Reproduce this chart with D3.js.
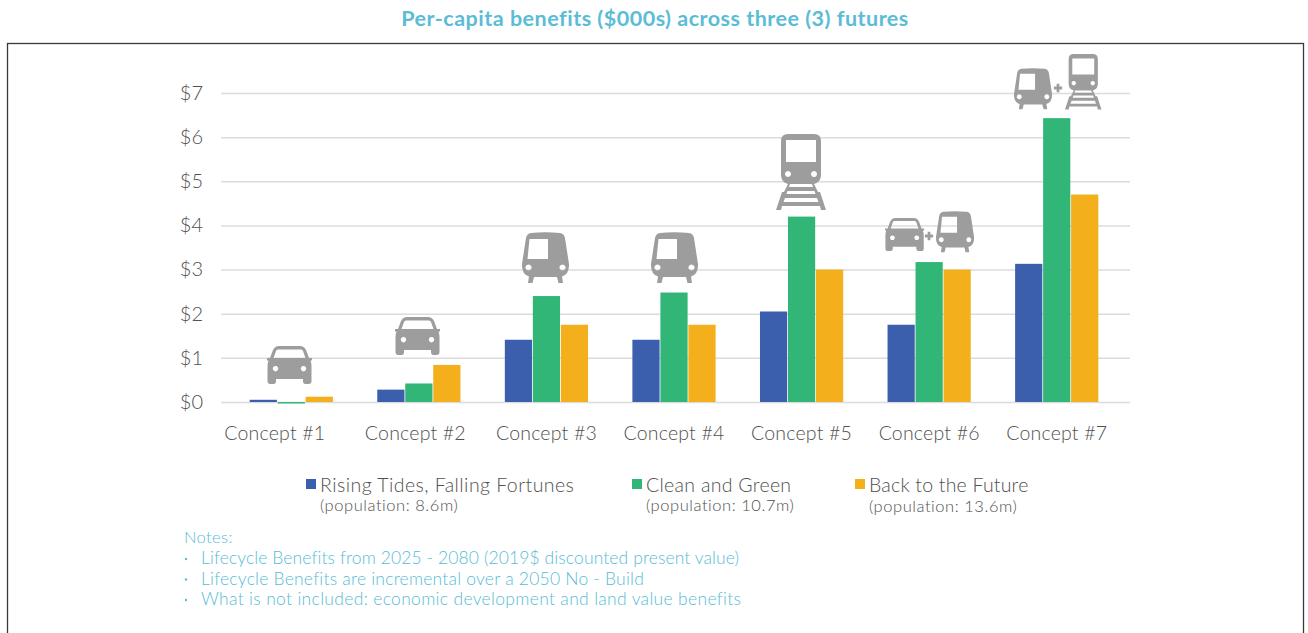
<!DOCTYPE html>
<html>
<head>
<meta charset="utf-8">
<script src="https://cdn.jsdelivr.net/npm/d3@7"></script>
<style>
html, body { margin: 0; padding: 0; background: #fff; overflow: hidden; }
text { font-family: Lato, "Open Sans", sans-serif; font-weight: 300; }
</style>
</head>
<body>
<div id="chart"></div>
<script>
// chart values
var concepts = ["Concept #1", "Concept #2", "Concept #3", "Concept #4", "Concept #5", "Concept #6", "Concept #7"];
var risingTides = [0.05, 0.28, 1.41, 1.41, 2.05, 1.75, 3.13];
var cleanGreen = [-0.03, 0.42, 2.4, 2.48, 4.2, 3.17, 6.43];
var backFuture = [0.12, 0.84, 1.75, 1.75, 3.0, 3.0, 4.7];
var seriesNames = ["Rising Tides, Falling Fortunes", "Clean and Green", "Back to the Future"];
var seriesPops = ["(population: 8.6m)", "(population: 10.7m)", "(population: 13.6m)"];
var yTicks = [0, 1, 2, 3, 4, 5, 6, 7];
var notes = [
    "Lifecycle Benefits from 2025 - 2080 (2019$ discounted present value)",
    "Lifecycle Benefits are incremental over a 2050 No - Build",
    "What is not included: economic development and land value benefits"
];

var colors = ["#3b5ead", "#31b677", "#f3af1c"];
var allSeries = [risingTides, cleanGreen, backFuture];
var textGrey = "#505050";
var noteBlue = "#58bcd6";

var width = 1308,
    height = 633;

var svg = d3.select("#chart").append("svg")
    .attr("width", width)
    .attr("height", height);

// title and frame
svg.append("text")
    .attr("x", 655)
    .attr("y", 26)
    .attr("text-anchor", "middle")
    .attr("font-size", 21.5)
    .style("font-weight", 700)
    .style("letter-spacing", "0.5px")
    .attr("fill", "#5bbcd6")
    .text("Per-capita benefits ($000s) across three (3) futures");

svg.append("rect")
    .attr("x", 7.5)
    .attr("y", 43.5)
    .attr("width", 1296)
    .attr("height", 640)
    .attr("fill", "none")
    .attr("stroke", "#3a3a3a")
    .attr("stroke-width", 1.3);

// scales
var x = d3.scaleBand()
    .domain(concepts)
    .range([227.5, 1120.5]);

var y = d3.scaleLinear()
    .domain([0, 7])
    .range([402, 93]);

var barW = 28;
var xSeries = d3.scaleBand()
    .domain([0, 1, 2])
    .range([-barW * 1.5, barW * 1.5]);

// axes
var yAxis = d3.axisLeft(y)
    .tickValues(yTicks)
    .tickSize(-909)
    .tickPadding(18)
    .tickFormat(function (d) { return "$" + d; });

var yG = svg.append("g")
    .attr("transform", "translate(221,0)")
    .call(yAxis);
yG.select(".domain").remove();
yG.selectAll("line").attr("stroke", "#dcdcdc").attr("stroke-width", 1.5);
yG.selectAll("text")
    .attr("font-size", 20)
    .attr("fill", textGrey)
    .style("font-family", "Lato")
    .style("font-weight", 300);

var xAxis = d3.axisBottom(x)
    .tickSize(0)
    .tickPadding(24);
var xG = svg.append("g")
    .attr("transform", "translate(0,402)")
    .call(xAxis);
xG.select(".domain").remove();
xG.selectAll("text")
    .attr("font-size", 19.5)
    .attr("fill", textGrey)
    .style("font-family", "Lato")
    .style("font-weight", 300)
    .style("letter-spacing", "0.2px")
    // first two labels sit left of their bars in the original
    .attr("dx", function (d, i) { return i === 0 ? -16.5 : (i === 1 ? -3.5 : 0); });

// bars
allSeries.forEach(function (vals, s) {
    svg.append("g")
        .selectAll("rect")
        .data(vals)
        .enter()
        .append("rect")
        .attr("x", function (d, i) { return x(concepts[i]) + x.bandwidth() / 2 + xSeries(s) + 0.4; })
        .attr("width", barW - 0.8)
        .attr("y", function (d) { return Math.min(y(d), y(0)); })
        .attr("height", function (d) { return Math.max(Math.abs(y(d) - y(0)), 1.5); })
        .attr("fill", colors[s]);
});

// icons, each one drawn in its own little box
var iconGrey = "#9d9d9d";
var iconPaths = {
    car: "M12 0H33Q37 0 39 4L42 12H45V14.5H43.500Q44.500 17 44.500 20V35Q44.500 38 41.500 38H38.500Q36 38 36 35V33H9V35Q9 38 6.500 38H3.500Q.5 38 .5 35V20Q.5 17 1.500 14.5H0V12H3L6 4Q8 0 12 0ZM11 3.500Q9.500 3.500 9 5L6.500 12H38.500L36 5Q35.500 3.500 34 3.500Z" +
        "M8.500 20a2.700 2.700 0 1 0 .01 0ZM36.500 20a2.700 2.700 0 1 0 .01 0Z",
    metro: "M9 1Q23 -.5 38 1Q42 1.500 43 6L47 32Q47.500 42 40 44.500L41 51H36.500L35 45H12L10.500 51H6L7 44.500Q-.5 42 0 32L4 6Q5 1.500 9 1ZM7.500 7L5.500 27H26V7Z" +
        "M6.500 32.500a3 3 0 1 0 .01 0ZM40.500 32.500a3 3 0 1 0 .01 0Z",
    train: "M12 0H38Q45 0 45 7V41Q45 48 38 50L42 58H44L50 76H45L44 72H6L5 76H0L6 58H8L12 50Q5 48 5 41V7Q5 0 12 0ZM10 6V28H40V6ZM14 50L13 53H37L36 50ZM11.500 57L10.500 60H39.500L38.500 57ZM9 64L7.500 68H42.500L41 64Z" +
        "M12 37a3 3 0 1 0 .01 0ZM38 37a3 3 0 1 0 .01 0Z"
};

function placeIcon(kind, left, top, scale) {
    svg.append("path")
        .attr("transform", "translate(" + left + "," + top + ") scale(" + scale + ")")
        .attr("fill", iconGrey)
        .attr("fill-rule", "evenodd")
        .attr("d", iconPaths[kind]);
}

function placePlus(cx, cy) {
    svg.append("path")
        .attr("transform", "translate(" + cx + "," + cy + ")")
        .attr("fill", iconGrey)
        .attr("d", d3.symbol().type(d3.symbolCross).size(38)());
}

placeIcon("car", 267, 346, 1);
placeIcon("car", 395, 317, 1);
placeIcon("metro", 522, 232, 1);
placeIcon("metro", 651, 232, 1);
placeIcon("train", 776, 134, 1);
placeIcon("car", 885, 218, 0.87);
placePlus(929, 236);
placeIcon("metro", 936, 211, 0.81);
placeIcon("metro", 1014, 68, 0.81);
placePlus(1058, 88);
placeIcon("train", 1065, 54, 0.73);

// legend
var legendX = [306, 632, 855];
var legendPopY = [511, 511, 512];
var nameSpacing = [0.45, 0.3, 0.2];
seriesNames.forEach(function (name, i) {
    svg.append("rect")
        .attr("x", legendX[i])
        .attr("y", 479)
        .attr("width", 10)
        .attr("height", 10)
        .attr("fill", colors[i]);
    svg.append("text")
        .attr("x", legendX[i] + 14)
        .attr("y", 491.5)
        .attr("font-size", 19.5)
        .style("letter-spacing", nameSpacing[i] + "px")
        .attr("fill", textGrey)
        .text(name);
    svg.append("text")
        .attr("x", legendX[i] + 14)
        .attr("y", legendPopY[i])
        .attr("font-size", 16.5)
        .style("letter-spacing", "0.55px")
        .attr("fill", textGrey)
        .text(seriesPops[i]);
});

// notes
svg.append("text")
    .attr("x", 184)
    .attr("y", 543)
    .attr("font-size", 16.5)
    .style("letter-spacing", "0.4px")
    .attr("fill", noteBlue)
    .text("Notes:");

var noteSpacing = [0.1, 0.22, 0.32];
notes.forEach(function (t, i) {
    var ny = 564 + i * 20.5;
    svg.append("circle")
        .attr("cx", 186)
        .attr("cy", ny - 5)
        .attr("r", 1.2)
        .attr("fill", noteBlue);
    svg.append("text")
        .attr("x", 201)
        .attr("y", ny)
        .attr("font-size", 17.5)
        .style("letter-spacing", noteSpacing[i] + "px")
        .attr("fill", noteBlue)
        .text(t);
});
</script>
</body>
</html>
